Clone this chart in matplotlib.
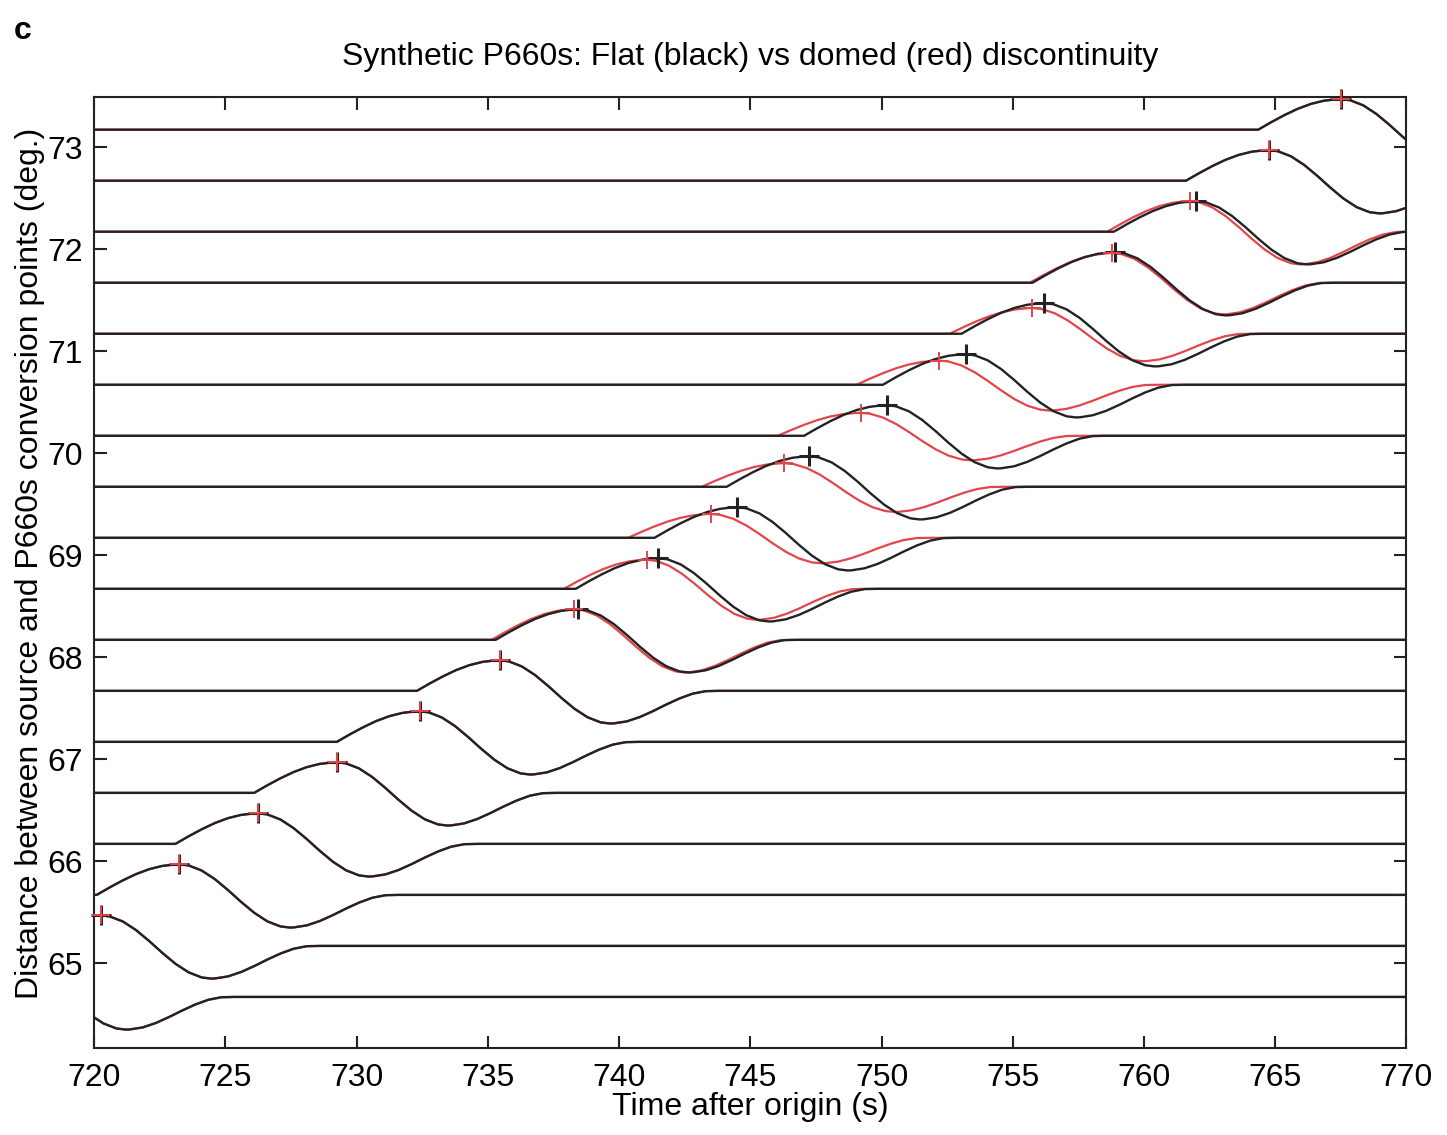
import numpy as np
import matplotlib
matplotlib.use("Agg")
import matplotlib.pyplot as plt

plt.rcParams['font.family'] = ['Liberation Sans', 'DejaVu Sans']

# region data
# trace baselines (deg.), bottom to top
baselines = [64.67, 65.17, 65.67, 66.17, 66.67, 67.17, 67.67, 68.17, 68.67,
             69.17, 69.67, 70.17, 70.67, 71.17, 71.67, 72.17, 72.67, 73.17]

# peak times (s) of the flat model (black) and domed model (red)
black_peak = [717.0, 720.25, 723.25, 726.25, 729.25, 732.4, 735.45, 738.45, 741.5,
              744.5, 747.25, 750.2, 753.2, 756.2, 758.9, 762.0, 764.75, 767.5]
red_peak = [717.0, 720.25, 723.25, 726.25, 729.25, 732.4, 735.45, 738.3, 741.05,
            743.5, 746.3, 749.2, 752.2, 755.75, 758.8, 761.75, 764.75, 767.5]
# relative amplitude of the domed-model pulse
red_amp = [1.0, 1.0, 1.0, 1.0, 1.0, 1.0, 1.0, 1.0, 0.95,
           0.78, 0.77, 0.75, 0.79, 0.84, 0.97, 1.0, 1.0, 1.0]

# pulse shape: time after onset (s), amplitude (deg.)
pulse_t = [0.0, 0.5, 1.0, 1.5, 2.0, 2.5, 3.0, 3.15, 3.5, 4.0, 4.5, 5.0, 5.5,
           6.0, 6.5, 7.0, 7.35, 7.5, 8.0, 8.5, 9.0, 9.5, 10.0, 10.5, 11.0, 11.5]
pulse_a = [0.0, 0.074, 0.143, 0.204, 0.252, 0.284, 0.299, 0.300, 0.289, 0.239,
           0.155, 0.048, -0.068, -0.175, -0.259, -0.309, -0.320, -0.319, -0.299,
           -0.256, -0.198, -0.134, -0.075, -0.028, -0.003, 0.0]
PULSE_PEAK_T = 3.15
PULSE_PEAK_A = 0.300

xticks = [720, 725, 730, 735, 740, 745, 750, 755, 760, 765, 770]
yticks = [65, 66, 67, 68, 69, 70, 71, 72, 73]
# endregion

BLACK = '#222222'
RED = '#e2454a'
FS = 23

fig = plt.figure(figsize=(14.47, 11.35), dpi=100)
ax = fig.add_axes([0.065, 0.0767, 0.907, 0.8378])
XMIN, XMAX = 720, 770

pt = np.array(pulse_t)
pa = np.array(pulse_a)


def trace(peak, base, amp):
    onset = peak - PULSE_PEAK_T
    x = np.concatenate([[700.0], onset + pt, [790.0]])
    y = np.concatenate([[base], base + amp * pa, [base]])
    return x, y


# red first so black sits on top where they match
for b, p, a in zip(baselines, red_peak, red_amp):
    x, y = trace(p, b, a)
    ax.plot(x, y, color=RED, lw=1.6, zorder=2)

for b, p in zip(baselines, black_peak):
    x, y = trace(p, b, 1.0)
    ax.plot(x, y, color=BLACK, lw=1.7, zorder=3)

# peak picks, only those inside the time window
bp = [(p, b + PULSE_PEAK_A) for p, b in zip(black_peak, baselines) if p >= XMIN]
rp = [(p, b + a * PULSE_PEAK_A) for p, b, a in zip(red_peak, baselines, red_amp) if p >= XMIN]
ax.plot([q[0] for q in bp], [q[1] for q in bp], ls='none', marker='+', ms=14, mew=2.2,
        color=BLACK, zorder=4, clip_on=False)
ax.plot([q[0] for q in rp], [q[1] for q in rp], ls='none', marker='+', ms=13, mew=1.4,
        color=RED, zorder=5, clip_on=False)

ax.set_xlim(XMIN, XMAX)
ax.set_ylim(64.17, 73.49)
ax.set_xticks(xticks)
ax.set_yticks(yticks)
ax.tick_params(direction='in', length=9, width=1.5, labelsize=FS,
               top=True, right=True, color=BLACK)
ax.tick_params(axis='x', pad=11)
ax.tick_params(axis='y', pad=8)
for s in ax.spines.values():
    s.set_linewidth(1.5)
    s.set_color(BLACK)

ax.set_xlabel('Time after origin (s)', fontsize=FS)
ax.xaxis.set_label_coords(0.5, -0.062)
ax.xaxis.label.set_va('center')
ax.set_ylabel('Distance between source and P660s conversion points (deg.)', fontsize=FS)
ax.yaxis.set_label_coords(-0.049, 0.51)
ax.yaxis.label.set_va('center')

ax.text(0.5, 1.042, 'Synthetic P660s: Flat (black) vs domed (red) discontinuity',
        transform=ax.transAxes, ha='center', va='center', fontsize=FS)
fig.text(23 / 1447, 1 - 31 / 1135, 'c', ha='center', va='center',
         fontsize=23, fontweight='bold')

fig.savefig('out.png', dpi=100)
